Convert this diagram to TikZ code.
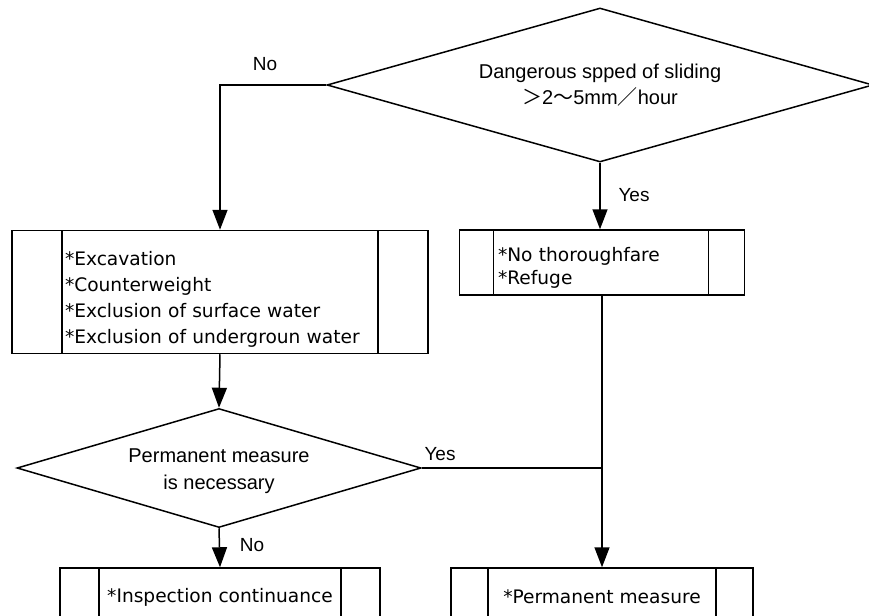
\documentclass[tikz,border=0pt]{standalone}
\usepackage{fontspec}
\setmainfont{DejaVu Sans}
\newfontfamily\labelfont{Liberation Sans}
\newfontfamily\cjk{Noto Sans CJK JP}
\usetikzlibrary{shapes.geometric,arrows.meta}

\begin{document}
\begin{tikzpicture}[x=1pt,y=-1pt,
  line width=1.5pt,
  decision/.style={draw, diamond, inner sep=0pt},
  question/.style={inner sep=0pt, align=center,
    font=\labelfont\fontsize{20}{27}\selectfont},
  procbox/.style 2 args={draw, rectangle, inner sep=0pt,
    path picture={
      \draw ([xshift=#1]path picture bounding box.north west) --
            ([xshift=#1]path picture bounding box.south west);
      \draw ([xshift=-#2]path picture bounding box.north east) --
            ([xshift=-#2]path picture bounding box.south east);
    }},
  items/.style={inner sep=0pt, align=left, font=\fontsize{18.6}{26}\selectfont},
  flow/.style={-{Triangle[length=20pt,width=15pt]}},
  tag/.style={inner sep=0pt, font=\labelfont\fontsize{19}{22}\selectfont}
]
\useasboundingbox (0,0) rectangle (869,615);

% decisions: outline first, wording on top
\node[decision, minimum width=546pt, minimum height=154pt] (speed) at (600,85) {};
\node[question] (speedtext) at (speed.center)
  {Dangerous spped of sliding\\[-1pt]{\cjk ＞}2{\cjk ～}5mm{\cjk ／}hour};
\node[decision, minimum width=404pt, minimum height=119pt] (perm) at (219,468) {};
\node[question] (permtext) at ([yshift=-3pt]perm.center)
  {Permanent measure\\is necessary};

% process boxes: frame with side bars, item list inside
\node[procbox={50pt}{50pt}, minimum width=416pt, minimum height=123pt] (works) at (220,292) {};
\node[items, text width=310pt] (workstext) at ([yshift=-7pt]works.center)
  {*Excavation\\{}*Counterweight\\{}*Exclusion of surface water\\{}*Exclusion of undergroun water};
\node[procbox={34pt}{36pt}, minimum width=285pt, minimum height=65pt] (refuge) at (602,262.5) {};
\node[items, text width=208pt, font=\fontsize{18.6}{23}\selectfont] (refugetext)
  at ([yshift=-5pt]refuge.center)
  {*No thoroughfare\\{}*Refuge};
\node[procbox={39pt}{39pt}, minimum width=320pt, minimum height=52pt] (insp) at (220,594) {};
\node[items] (insptext) at ([yshift=-3pt]insp.center) {*Inspection continuance};
\node[procbox={37pt}{37pt}, minimum width=302pt, minimum height=52pt] (final) at (602,594) {};
\node[items] (finaltext) at ([yshift=-3pt]final.center) {*Permanent measure};

% connectors
\draw[flow] (speed.west) -| (works.north);
\draw[flow] (speed.south) -- (speed.south |- refuge.north);
\draw[flow] (works.south) -- (perm.north);
\draw[flow] (perm.south) -- (insp.north);
\draw[flow] (refuge.south) -- (final.north);
\coordinate (join) at (perm.east -| refuge.south);
\draw (perm.east) -- (join);

% branch labels
\node[tag] (noA) at (265,64) {No};
\node[tag] (yesA) at (634,195) {Yes};
\node[tag] (yesB) at (440,454) {Yes};
\node[tag] (noB) at (252,545) {No};
\end{tikzpicture}
\end{document}
